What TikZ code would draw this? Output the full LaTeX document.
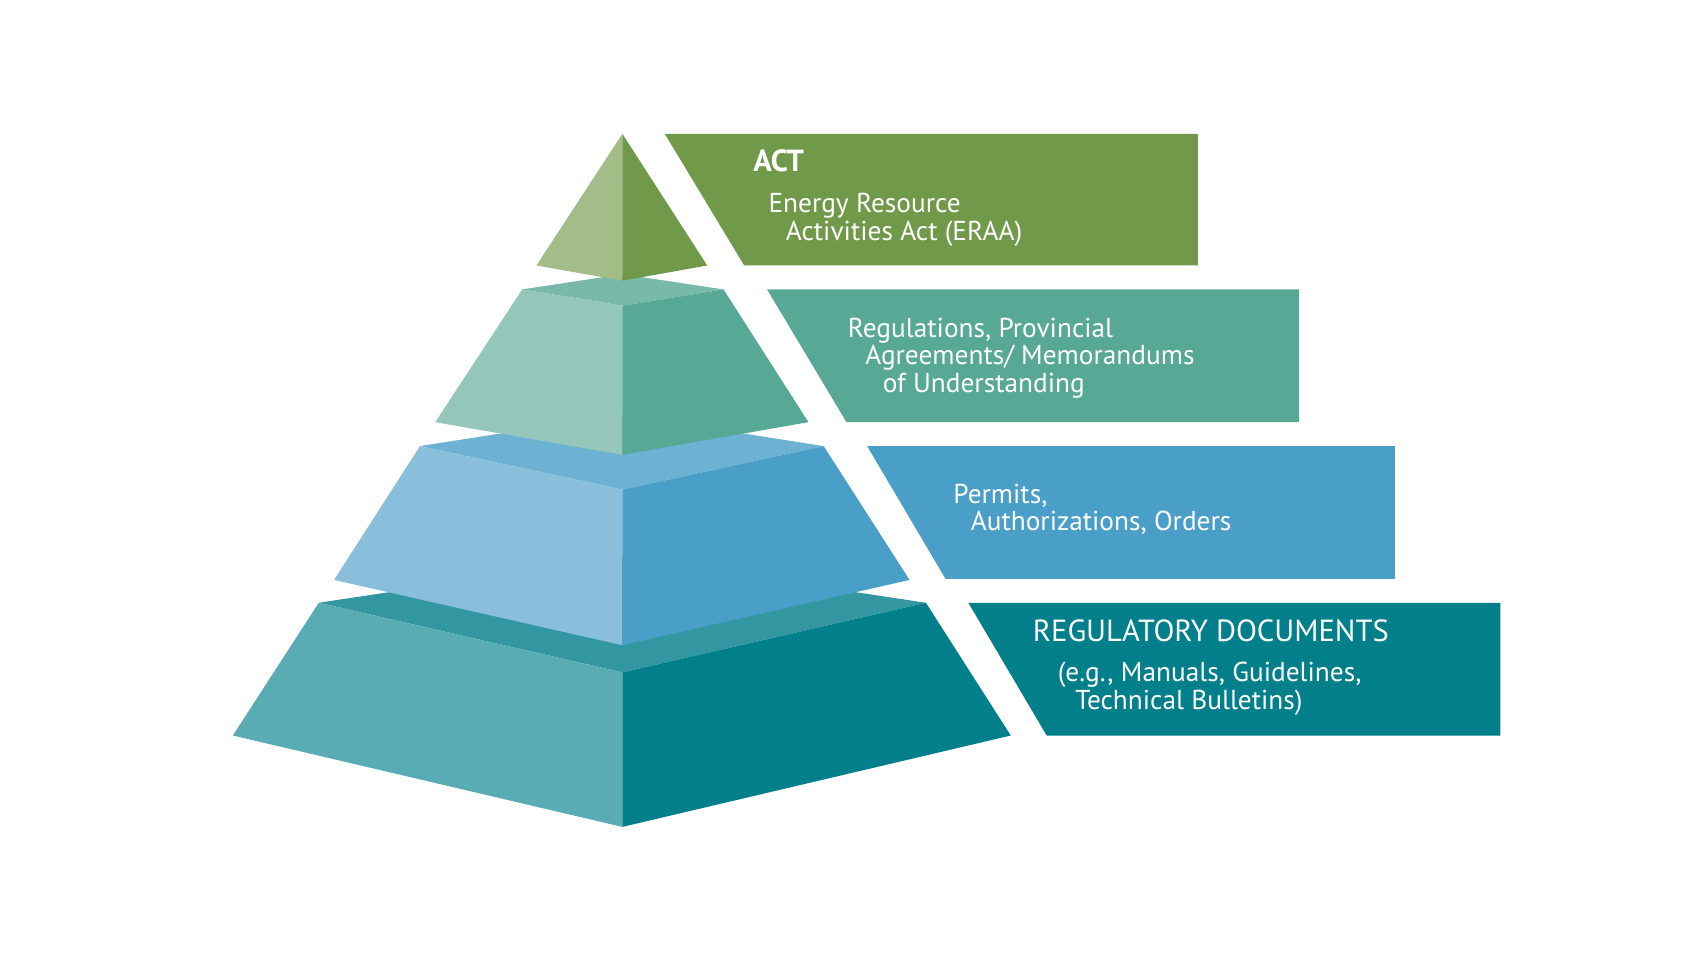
\documentclass[tikz,border=0pt]{standalone}
\usepackage{fontspec}
\setmainfont{PT Sans}

\definecolor{actleft}{HTML}{A2BD88}
\definecolor{actright}{HTML}{71994A}
\definecolor{regtop}{HTML}{79B9A9}
\definecolor{regleft}{HTML}{94C7B9}
\definecolor{regright}{HTML}{57A895}
\definecolor{pertop}{HTML}{6DB1D3}
\definecolor{perleft}{HTML}{89BFDB}
\definecolor{perright}{HTML}{4A9FC8}
\definecolor{doctop}{HTML}{3397A1}
\definecolor{docleft}{HTML}{5AACB4}
\definecolor{docright}{HTML}{017F8B}

\tikzset{
	line/.style={anchor=base west, text=white, inner sep=0pt, font=\fontsize{14.3}{16}\selectfont},
	head/.style={anchor=base west, text=white, inner sep=0pt, font=\fontsize{16}{18}\selectfont}
}

\begin{document}
\begin{tikzpicture}[x=0.02cm, y=-0.02cm]
	\useasboundingbox (0, 0) rectangle (1568, 882);

	% bottom tier
	\fill[doctop] (293, 554) -- (572, 512) -- (851, 554) -- (572, 618) -- cycle;
	\fill[docleft] (293, 554) -- (572, 618) -- (572, 760) -- (214, 676) -- cycle;
	\fill[docright] (572, 618) -- (851, 554) -- (929, 676) -- (572, 760) -- cycle;
	\fill[docright] (890, 554) -- (1379, 554) -- (1379, 676) -- (962, 676) -- cycle;

	% third tier
	\fill[pertop] (386, 410) -- (572, 381) -- (757, 410) -- (572, 450) -- cycle;
	\fill[perleft] (386, 410) -- (572, 450) -- (572, 593) -- (307, 533) -- cycle;
	\fill[perright] (572, 450) -- (757, 410) -- (836, 533) -- (572, 593) -- cycle;
	\fill[perright] (797, 410) -- (1282, 410) -- (1282, 532) -- (869, 532) -- cycle;

	% second tier
	\fill[regtop] (480, 266) -- (572, 252) -- (665, 266) -- (572, 281) -- cycle;
	\fill[regleft] (480, 266) -- (572, 281) -- (572, 418) -- (400, 388) -- cycle;
	\fill[regright] (572, 281) -- (665, 266) -- (743, 388) -- (572, 418) -- cycle;
	\fill[regright] (705, 266) -- (1194, 266) -- (1194, 388) -- (778, 388) -- cycle;

	% top
	\fill[actleft] (572, 123) -- (572, 258) -- (493, 244) -- cycle;
	\fill[actright] (572, 123) -- (650, 244) -- (572, 258) -- cycle;
	\fill[actright] (611, 123) -- (1101, 123) -- (1101, 244) -- (684, 244) -- cycle;

	\node[head, font=\fontsize{16}{18}\bfseries] (act) at (692, 158) {ACT};
	\node[line] (act1) at (706, 195) {Energy Resource};
	\node[line] (act2) at (722, 221) {Activities Act (ERAA)};

	\node[line] (reg1) at (779, 310) {Regulations, Provincial};
	\node[line] (reg2) at (795, 335) {Agreements/ Memorandums};
	\node[line] (reg3) at (811, 361) {of Understanding};

	\node[line] (per1) at (876, 463) {Permits,};
	\node[line] (per2) at (892, 488) {Authorizations, Orders};

	\node[head] (doc) at (949, 590) {REGULATORY DOCUMENTS};
	\node[line] (doc1) at (972, 626) {(e.g., Manuals, Guidelines,};
	\node[line] (doc2) at (988, 652) {Technical Bulletins)};
\end{tikzpicture}
\end{document}
